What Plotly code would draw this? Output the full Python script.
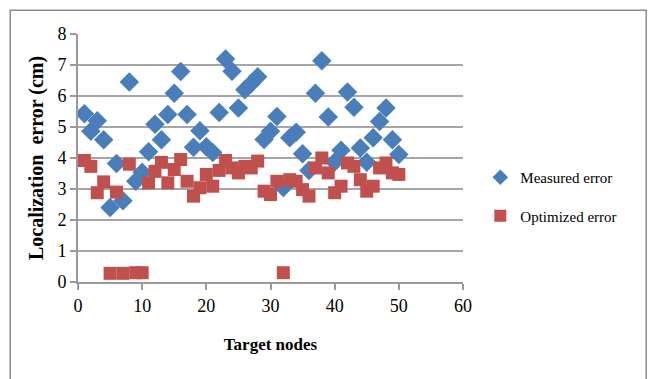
import plotly.graph_objects as go

nodes = list(range(1, 51))
measured = [5.43, 4.86, 5.20, 4.59, 2.40, 3.82, 2.62, 6.45, 3.25, 3.54,
            4.20, 5.09, 4.59, 5.40, 6.09, 6.79, 5.40, 4.35, 4.88, 4.36,
            4.18, 5.47, 7.19, 6.80, 5.61, 6.20, 6.40, 6.62, 4.60, 4.86,
            5.34, 3.05, 4.65, 4.83, 4.14, 3.60, 6.09, 7.14, 5.32, 3.87,
            4.25, 6.13, 5.64, 4.32, 3.86, 4.65, 5.18, 5.61, 4.59, 4.11]
optimized = [3.92, 3.73, 2.88, 3.23, 0.28, 2.90, 0.28, 3.80, 0.30, 0.30,
             3.20, 3.57, 3.86, 3.20, 3.63, 3.95, 3.25, 2.77, 3.04, 3.47,
             3.09, 3.60, 3.92, 3.68, 3.52, 3.73, 3.68, 3.90, 2.93, 2.82,
             3.25, 0.30, 3.30, 3.25, 2.98, 2.77, 3.68, 4.00, 3.52, 2.88,
             3.09, 3.84, 3.73, 3.30, 2.93, 3.09, 3.68, 3.84, 3.52, 3.47]
x_ticks = [0, 10, 20, 30, 40, 50, 60]
y_ticks = [0, 1, 2, 3, 4, 5, 6, 7, 8]

serif = "Liberation Serif"

fig = go.Figure()
fig.add_trace(go.Scatter(
    x=nodes, y=measured, mode="markers", name="Measured error",
    legendgroup="m",
    marker=dict(symbol="diamond", size=15, color="#4A7EBB",
                line=dict(width=0)),
))
fig.add_trace(go.Scatter(
    x=nodes, y=optimized, mode="markers", name="Optimized error",
    legendgroup="o",
    marker=dict(symbol="square", size=13, color="#C0504D",
                line=dict(width=0)),
))

fig.update_layout(
    width=654, height=379,
    margin=dict(l=78, r=191, t=34, b=97, autoexpand=False),
    paper_bgcolor="white", plot_bgcolor="white",
    font=dict(family=serif, size=18, color="black"),
    showlegend=True,
    legend=dict(x=1.045, y=0.345, xanchor="left", yanchor="middle",
                font=dict(family=serif, size=15, color="black"),
                traceorder="grouped", tracegroupgap=16,
                itemwidth=30, itemsizing="constant",
                bgcolor="rgba(0,0,0,0)"),
    xaxis=dict(range=[0, 60], tickvals=x_ticks, showgrid=False,
               showline=True, linecolor="#999999", linewidth=2,
               ticks="outside", ticklen=6, tickcolor="#999999", tickwidth=2,
               zeroline=False,
               title=dict(text="<b>Target nodes</b>", standoff=24,
                          font=dict(family=serif, size=17))),
    yaxis=dict(range=[0, 8], tickvals=y_ticks, showgrid=True,
               gridcolor="#a6a6a6", gridwidth=2,
               showline=True, linecolor="#999999", linewidth=2,
               ticks="outside", ticklen=6, tickcolor="#999999", tickwidth=2,
               zeroline=False,
               title=dict(text="<b>Localization  error (cm)</b>", standoff=8,
                          font=dict(family=serif, size=20))),
    shapes=[dict(type="rect", xref="paper", yref="paper",
                 x0=-0.176, x1=1.476, y0=-0.45, y1=1.096,
                 line=dict(color="#8c8c8c", width=1.5),
                 fillcolor="rgba(0,0,0,0)", layer="below")],
)

fig.write_html("out.html")
